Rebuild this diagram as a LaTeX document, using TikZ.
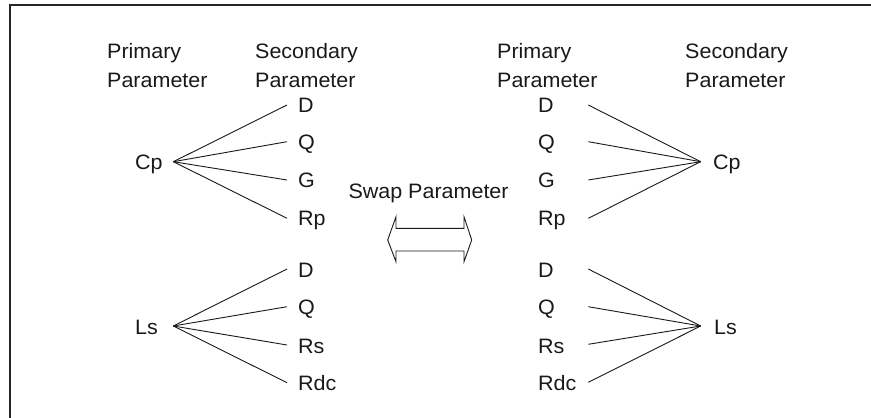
\documentclass[tikz,border=0pt]{standalone}
\usepackage{fontspec}
\usepackage{graphicx}
\setmainfont{Liberation Sans}
\newcommand{\sqz}[1]{\scalebox{1}[0.97]{#1}}
\begin{document}
\begin{tikzpicture}[x=1pt,y=-1pt,
  txt/.style={inner sep=0pt, anchor=base west, text=black!90,
    font=\fontsize{21.5}{26}\selectfont},
  conn/.style={draw=black!90, line width=0.9pt},
  frame/.style={draw=black!85, line width=2pt},
  swaparrow/.style={draw=black!90, line width=0.9pt, line join=miter}]
\useasboundingbox (0,0) rectangle (871,418);
% frame (top and left only)
\draw[frame] (872,5.3) -- (10,5.3) -- (10,419);

% headers
\node[txt] (pri1a) at (107,58) {\sqz{Primary}};
\node[txt] (pri1b) at (107,87) {\sqz{Parameter}};
\node[txt] (sec1a) at (255,58) {\sqz{Secondary}};
\node[txt] (sec1b) at (255,87) {\sqz{Parameter}};
\node[txt] (pri2a) at (497,58) {\sqz{Primary}};
\node[txt] (pri2b) at (497,87) {\sqz{Parameter}};
\node[txt] (sec2a) at (685,58) {\sqz{Secondary}};
\node[txt] (sec2b) at (685,87) {\sqz{Parameter}};

% left upper group
\node[txt] (cpL) at (135,169.5) {\sqz{Cp}};
\coordinate (hubCpL) at (173.3,161.7);
\node[txt] (lD1) at (298,112.5) {\sqz{D}};
\node[txt] (lQ1) at (298,149.2) {\sqz{Q}};
\node[txt] (lG1) at (298,187.5) {\sqz{G}};
\node[txt] (lR1) at (298,225.8) {\sqz{Rp}};
\coordinate (eD1) at (287,105);
\coordinate (eQ1) at (287,141.7);
\coordinate (eG1) at (287,180);
\coordinate (eR1) at (287,218.3);
\foreach \e in {eD1,eQ1,eG1,eR1} \draw[conn] (hubCpL) -- (\e);

% left lower group
\node[txt] (lsL) at (135,334) {\sqz{Ls}};
\coordinate (hubLsL) at (173.3,326);
\node[txt] (lD2) at (298,277) {\sqz{D}};
\node[txt] (lQ2) at (298,314.7) {\sqz{Q}};
\node[txt] (lR2) at (298,353) {\sqz{Rs}};
\node[txt] (lR3) at (298,390.7) {\sqz{Rdc}};
\coordinate (eD2) at (287,269);
\coordinate (eQ2) at (287,306.7);
\coordinate (eR2) at (287,345);
\coordinate (eR3) at (287,382.7);
\foreach \e in {eD2,eQ2,eR2,eR3} \draw[conn] (hubLsL) -- (\e);

% right upper group
\node[txt] (cpR) at (713,169.5) {\sqz{Cp}};
\coordinate (hubCpR) at (700.7,161.7);
\node[txt] (rD1) at (538,112.5) {\sqz{D}};
\node[txt] (rQ1) at (538,149.2) {\sqz{Q}};
\node[txt] (rG1) at (538,187.5) {\sqz{G}};
\node[txt] (rR1) at (538,225.8) {\sqz{Rp}};
\coordinate (sD1) at (588.3,105);
\coordinate (sQ1) at (588.3,141.7);
\coordinate (sG1) at (588.3,180);
\coordinate (sR1) at (588.3,218.3);
\foreach \e in {sD1,sQ1,sG1,sR1} \draw[conn] (\e) -- (hubCpR);

% right lower group
\node[txt] (lsR) at (714,334) {\sqz{Ls}};
\coordinate (hubLsR) at (700.7,326);
\node[txt] (rD2) at (538,277) {\sqz{D}};
\node[txt] (rQ2) at (538,314.7) {\sqz{Q}};
\node[txt] (rR2) at (538,353) {\sqz{Rs}};
\node[txt] (rR3) at (538,390.7) {\sqz{Rdc}};
\coordinate (sD2) at (588.3,269);
\coordinate (sQ2) at (588.3,306.7);
\coordinate (sR2) at (588.3,344.3);
\coordinate (sR3) at (588.3,382.3);
\foreach \e in {sD2,sQ2,sR2,sR3} \draw[conn] (\e) -- (hubLsR);

% swap label and double arrow
\node[txt] (swap) at (348.3,198.3) {\sqz{Swap Parameter}};
\draw[swaparrow] (396,216.7) -- (387.7,240) -- (396,261.7) -- (396,251)
  -- (464,251) -- (464,261.7) -- (471.7,240) -- (464,216.7) -- (464,228.3)
  -- (396,228.3) -- cycle;
\end{tikzpicture}
\end{document}
